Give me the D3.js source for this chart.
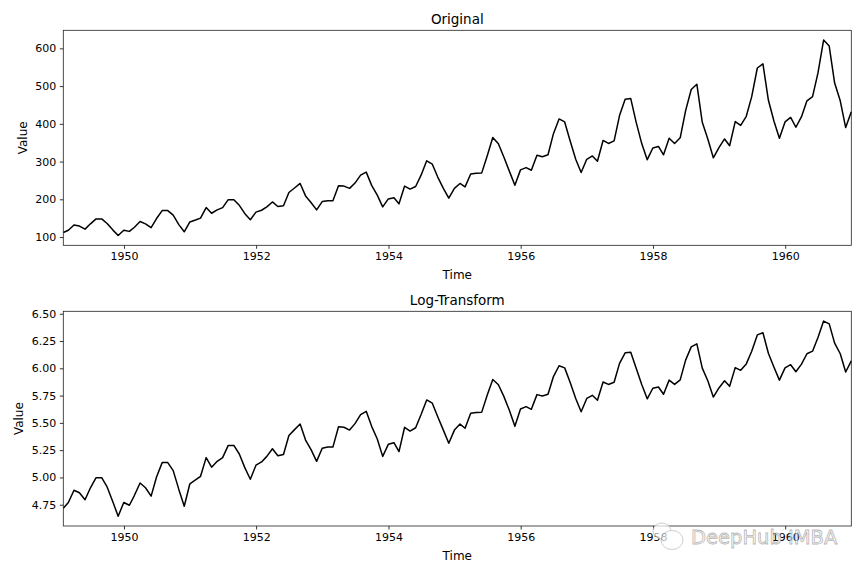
<!DOCTYPE html>
<html>
<head>
<meta charset="utf-8">
<script src="https://cdn.jsdelivr.net/npm/d3@7"></script>
<style>
  html, body { margin: 0; padding: 0; background: #fff; }
  svg { display: block; font-family: "DejaVu Sans", sans-serif; }
</style>
</head>
<body>
<div id="chart"></div>
<script>
// monthly passengers, one row per year (Jan..Dec)
const years = [1949, 1950, 1951, 1952, 1953, 1954, 1955, 1956, 1957, 1958, 1959, 1960];
const passengers = [
  [112, 118, 132, 129, 121, 135, 148, 148, 136, 119, 104, 118],
  [115, 126, 141, 135, 125, 149, 170, 170, 158, 133, 114, 140],
  [145, 150, 178, 163, 172, 178, 199, 199, 184, 162, 146, 166],
  [171, 180, 193, 181, 183, 218, 230, 242, 209, 191, 172, 194],
  [196, 196, 236, 235, 229, 243, 264, 272, 237, 211, 180, 201],
  [204, 188, 235, 227, 234, 264, 302, 293, 259, 229, 203, 229],
  [242, 233, 267, 269, 270, 315, 364, 347, 312, 274, 237, 278],
  [284, 277, 317, 313, 318, 374, 413, 405, 355, 306, 271, 306],
  [315, 301, 356, 348, 355, 422, 465, 467, 404, 347, 305, 336],
  [340, 318, 362, 348, 363, 435, 491, 505, 404, 359, 310, 337],
  [360, 342, 406, 396, 420, 472, 548, 559, 463, 407, 362, 405],
  [417, 391, 419, 461, 472, 535, 622, 606, 508, 461, 390, 432]
];
const xTickYears = [1950, 1952, 1954, 1956, 1958, 1960];
const topTicks = [100, 200, 300, 400, 500, 600];
const logTicks = [4.75, 5.00, 5.25, 5.50, 5.75, 6.00, 6.25, 6.50];

const width = 864, height = 576;
const left = 63.3, right = 851.3;

// month-end dates, like a pandas 'M' index
const series = [];
years.forEach((yr, i) => {
  passengers[i].forEach((v, m) => {
    series.push({ date: new Date(yr, m + 1, 0), value: v });
  });
});
const logSeries = series.map(d => ({ date: d.date, value: Math.log(d.value) }));

const svg = d3.select('#chart')
  .append('svg')
  .attr('width', width)
  .attr('height', height);

const x = d3.scaleTime()
  .domain(d3.extent(series, d => d.date))
  .range([left, right]);

function padded(data) {
  const [lo, hi] = d3.extent(data, d => d.value);
  const m = (hi - lo) * 0.05;
  return [lo - m, hi + m];
}

function panel(data, top, bottom, ticks, fmt, title, labelX) {
  const y = d3.scaleLinear().domain(padded(data)).range([bottom, top]);
  const g = svg.append('g');

  const xAxis = d3.axisBottom(x)
    .tickValues(xTickYears.map(yr => new Date(yr, 0, 1)))
    .tickFormat(d3.timeFormat('%Y'))
    .tickSize(3.5)
    .tickPadding(3.5);
  const yAxis = d3.axisLeft(y)
    .tickValues(ticks)
    .tickFormat(fmt)
    .tickSize(3.5)
    .tickPadding(3.5);

  g.append('g')
    .attr('transform', `translate(0,${bottom})`)
    .call(xAxis);
  g.append('g')
    .attr('transform', `translate(${left},0)`)
    .call(yAxis);

  g.selectAll('.tick text').attr('font-size', 11).attr('fill', '#000')
    .attr('font-family', '"DejaVu Sans", sans-serif');
  g.selectAll('.tick line').attr('stroke', '#000').attr('stroke-width', 0.8);
  g.selectAll('.domain').remove();

  g.append('path')
    .datum(data)
    .attr('fill', 'none')
    .attr('stroke', '#000')
    .attr('stroke-width', 1.5)
    .attr('stroke-linejoin', 'round')
    .attr('d', d3.line().x(d => x(d.date)).y(d => y(d.value)));

  g.append('rect')
    .attr('x', left)
    .attr('y', top)
    .attr('width', right - left)
    .attr('height', bottom - top)
    .attr('fill', 'none')
    .attr('stroke', '#222')
    .attr('stroke-width', 0.8);

  g.append('text')
    .attr('x', (left + right) / 2)
    .attr('y', top - 6)
    .attr('text-anchor', 'middle')
    .attr('font-size', 13.5)
    .text(title);

  g.append('text')
    .attr('x', (left + right) / 2)
    .attr('y', bottom + 33.5)
    .attr('text-anchor', 'middle')
    .attr('font-size', 12)
    .text('Time');

  g.append('text')
    .attr('transform', `translate(${labelX},${(top + bottom) / 2}) rotate(-90)`)
    .attr('text-anchor', 'middle')
    .attr('font-size', 12)
    .text('Value');
}

panel(series, 30.3, 245.3, topTicks, d3.format('d'), 'Original', 26.8);
panel(logSeries, 311.3, 526, logTicks, d3.format('.2f'), 'Log-Transform', 23.3);

// watermark
const wm = svg.append('g').attr('opacity', 0.7);
wm.append('ellipse').attr('cx', 662).attr('cy', 531).attr('rx', 9).attr('ry', 8)
  .attr('fill', '#fff').attr('stroke', '#bbb').attr('stroke-width', 1);
wm.append('ellipse').attr('cx', 672).attr('cy', 540).attr('rx', 11).attr('ry', 9.5)
  .attr('fill', '#fff').attr('stroke', '#bbb').attr('stroke-width', 1);
wm.append('text')
  .attr('x', 691).attr('y', 543.5)
  .attr('font-size', 19.5)
  .attr('font-family', '"DejaVu Sans", sans-serif')
  .attr('fill', '#fff')
  .attr('stroke', '#999')
  .attr('stroke-width', 0.8)
  .text('DeepHub IMBA');
</script>
</body>
</html>
